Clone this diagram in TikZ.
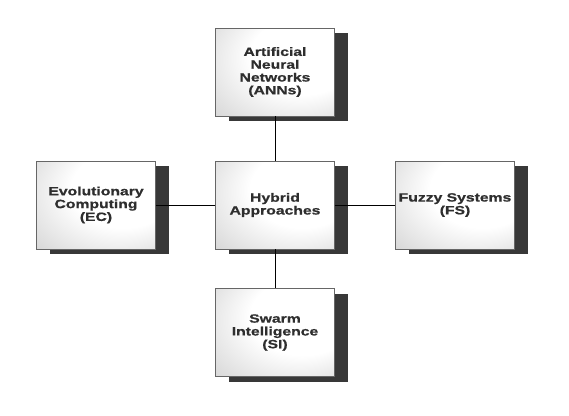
\documentclass[tikz,border=0pt]{standalone}
\usepackage{fontspec}
\setmainfont{Liberation Sans}[FakeStretch=1.31, BoldFeatures={FakeBold=0.8}]
\usetikzlibrary{shadows}
\pgfdeclareradialshading{boxshade}{\pgfpoint{18bp}{14bp}}{color(0bp)=(white); color(22bp)=(white); color(62bp)=(black!30)}
\tikzset{
  topic/.style={draw=black!60, line width=0.6pt, minimum width=119pt, minimum height=88pt,
    shading=boxshade, align=center, inner sep=0pt,
    font=\bfseries\fontsize{12}{12.8}\selectfont, text=black!82,
    drop shadow={shadow xshift=13pt, shadow yshift=-5pt, fill=black!78, opacity=1}},
  link/.style={line width=0.7pt, draw=black}
}
\begin{document}
\begin{tikzpicture}[x=1pt,y=-1pt]
\useasboundingbox (0,0) rectangle (569,415);
\node[topic] (ha)  at (275,205)   {Hybrid\\Approaches};
\node[topic] (ann) at (275,72)    {Artificial\\Neural\\Networks\\(ANNs)};
\node[topic] (ec)  at (96,205)    {Evolutionary\\Computing\\(EC)};
\node[topic] (fs)  at (455,205)   {Fuzzy Systems\\(FS)};
\node[topic] (si)  at (275,332.5) {Swarm\\Intelligence\\(SI)};
\draw[link] (ha) -- (ann);
\draw[link] (ha) -- (ec);
\draw[link] (ha) -- (fs);
\draw[link] (ha) -- (si);
\end{tikzpicture}
\end{document}
